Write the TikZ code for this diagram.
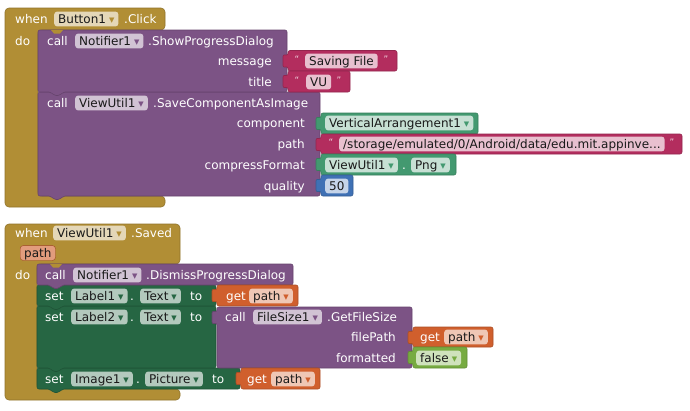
\documentclass[tikz,border=0pt]{standalone}
\usepackage{fontspec}
\setmainfont{DejaVu Sans}
\definecolor{evgold}{HTML}{B18E35}
\definecolor{callp}{HTML}{7C5385}
\definecolor{setg}{HTML}{266643}
\definecolor{compg}{HTML}{439970}
\definecolor{txtr}{HTML}{B32D5E}
\definecolor{mathb}{HTML}{3F71B5}
\definecolor{logg}{HTML}{77AB41}
\definecolor{varo}{HTML}{D05F2D}
\newcommand{\dropm}[1]{\hspace{3pt}{\color{#1}\fontsize{7}{7}\selectfont\raisebox{0.8pt}{▼}}}
\newcommand{\valb}[5]{\path[blk=#1] (#2,#3) -- (#4,#3) -- (#4,#5) -- (#2,#5) -- (#2,#3+16) -- (#2-5,#3+17) -- (#2-5,#3+4) -- (#2,#3+5) -- cycle;}
\newcommand{\stb}[5]{\path[blk=#1] (#2,#3) -- (#4,#3) -- (#4,#5) -- (#2+25,#5) -- (#2+22,#5+3.5) -- (#2+16,#5+3.5) -- (#2+13,#5) -- (#2,#5) -- cycle;}
\tikzset{
 blk/.style={fill=#1, draw=#1!82!black, line width=0.6pt, rounded corners=2pt},
 lbl/.style={text=white, inner sep=0pt, anchor=west, text height=10.5pt, text depth=2pt, font=\fontsize{12}{14}\selectfont},
 lblr/.style={lbl, anchor=east},
 fld/.style={fill=#1, rounded corners=3pt, inner xsep=4pt, inner ysep=1.2pt, text=black!90, anchor=west, text height=10.5pt, text depth=2pt, font=\fontsize{12}{14}\selectfont},
 qt/.style={text=txtr!20!white, inner sep=0pt, anchor=center, font=\fontsize{9}{9}\selectfont},
}
\begin{document}
\begin{tikzpicture}[x=1pt,y=-1pt]
\useasboundingbox[fill=white] (0,0) rectangle (690,410);
% ---------- Event 1 ----------
\path[blk=evgold, rounded corners=4pt] (5,207) -- (5,8) -- (165,8) -- (165,30) -- (38,30) -- (38,196) -- (165,196) -- (165,207) -- cycle;
\stb{callp}{38}{92}{320}{196}
\stb{callp}{38}{30}{287}{92}
\path[fill=evgold] (51,30) -- (54,33.5) -- (60,33.5) -- (63,30) -- cycle;
\valb{txtr}{288}{50.5}{397}{71}
\valb{txtr}{288}{71}{350}{92}
\valb{compg}{321}{113}{478}{134}
\valb{txtr}{321}{134}{682}{154}
\valb{compg}{321}{154}{456}{175}
\valb{mathb}{321}{175}{353}{196}

\node[lbl] (w1) at (15,19) {when};
\node[fld=evgold!35!white] (b1) at (54,19) {Button1\dropm{evgold}};
\node[lbl] (clk) at (124,19) {.Click};
\node[lbl] (do1) at (15,41) {do};
\node[lbl] (call1) at (47,41) {call};
\node[fld=callp!35!white] (n1) at (75,41) {Notifier1\dropm{callp}};
\node[lbl] (spd) at (148,41) {.ShowProgressDialog};
\node[lblr] (msg) at (272,61) {message};
\node[lblr] (ttl) at (272,82) {title};
\node[qt] (q1) at (297,59) {“};
\node[fld=txtr!30!white] (sf) at (305,61) {Saving File};
\node[qt] (q2) at (386,59) {”};
\node[qt] (q3) at (297,80) {“};
\node[fld=txtr!30!white] (vu) at (306,82) {VU};
\node[qt] (q4) at (339,80) {”};

\node[lbl] (call2) at (47,103) {call};
\node[fld=callp!35!white] (vu1) at (75,103) {ViewUtil1\dropm{callp}};
\node[lbl] (scai) at (153,103) {.SaveComponentAsImage};
\node[lblr] (comp) at (305,123) {component};
\node[lblr] (pth) at (305,144) {path};
\node[lblr] (cfm) at (305,165) {compressFormat};
\node[lblr] (qual) at (305,186) {quality};
\node[fld=compg!30!white] (va) at (325,123) {VerticalArrangement1\dropm{compg}};
\node[qt] (q5) at (331,142) {“};
\node[fld=txtr!30!white] (ps) at (339,144) {/storage/emulated/0/Android/data/edu.mit.appinve...};
\node[qt] (q6) at (672,142) {”};
\node[fld=compg!30!white] (vu2) at (325,165) {ViewUtil1\dropm{compg}};
\node[lbl] (dot0) at (402,165) {.};
\node[fld=compg!30!white] (png) at (411,165) {Png\dropm{compg}};
\node[fld=mathb!30!white] (fifty) at (325,186) {50};

% ---------- Event 2 ----------
\path[blk=evgold, rounded corners=4pt] (5,400) -- (5,224) -- (180,224) -- (180,264) -- (37,264) -- (37,389) -- (180,389) -- (180,400) -- cycle;
\stb{setg}{37}{368}{240}{389}
\stb{setg}{37}{306}{216}{368}
\stb{setg}{37}{285}{216}{306}
\stb{callp}{37}{264}{293}{285}
\path[fill=evgold] (50,264) -- (53,267.5) -- (59,267.5) -- (62,264) -- cycle;
\valb{varo}{217}{285}{298}{306}
\valb{callp}{217}{307}{412}{368}
\valb{varo}{413}{327}{493}{347}
\valb{logg}{413}{347}{467}{368}
\valb{varo}{241}{368}{320}{389}

\node[lbl] (w2) at (15,233) {when};
\node[fld=evgold!35!white] (vu3) at (53,233) {ViewUtil1\dropm{evgold}};
\node[lbl] (svd) at (131,233) {.Saved};
\node[fld=varo!62!white, draw=varo!75!black, line width=0.4pt] (par) at (20,253) {path};
\node[lbl] (do2) at (15,275) {do};
\node[lbl] (call3) at (45,275) {call};
\node[fld=callp!35!white] (n2) at (73,275) {Notifier1\dropm{callp}};
\node[lbl] (dpd) at (146,275) {.DismissProgressDialog};

\node[lbl] (set1) at (45,296) {set};
\node[fld=setg!35!white] (l1) at (71,296) {Label1\dropm{setg}};
\node[lbl] (dot1) at (130,296) {.};
\node[fld=setg!35!white] (t1) at (140,296) {Text\dropm{setg}};
\node[lbl] (to1) at (190,296) {to};
\node[lbl] (get1) at (226,296) {get};
\node[fld=varo!35!white] (gp1) at (249,296) {path\dropm{varo}};

\node[lbl] (set2) at (45,317) {set};
\node[fld=setg!35!white] (l2) at (71,317) {Label2\dropm{setg}};
\node[lbl] (dot2) at (130,317) {.};
\node[fld=setg!35!white] (t2) at (140,317) {Text\dropm{setg}};
\node[lbl] (to2) at (190,317) {to};
\node[lbl] (call4) at (225,317) {call};
\node[fld=callp!35!white] (fs) at (253,317) {FileSize1\dropm{callp}};
\node[lbl] (gfs) at (327,317) {.GetFileSize};
\node[lblr] (fp) at (396,337) {filePath};
\node[lblr] (fmt) at (396,358) {formatted};
\node[lbl] (get2) at (420,337) {get};
\node[fld=varo!35!white] (gp2) at (444,337) {path\dropm{varo}};
\node[fld=logg!35!white] (fls) at (416,358) {false\dropm{logg}};

\node[lbl] (set3) at (45,379) {set};
\node[fld=setg!35!white] (im) at (71,379) {Image1\dropm{setg}};
\node[lbl] (dot3) at (136,379) {.};
\node[fld=setg!35!white] (pic) at (145,379) {Picture\dropm{setg}};
\node[lbl] (to3) at (212,379) {to};
\node[lbl] (get3) at (247,379) {get};
\node[fld=varo!35!white] (gp3) at (271,379) {path\dropm{varo}};
\end{tikzpicture}
\end{document}
